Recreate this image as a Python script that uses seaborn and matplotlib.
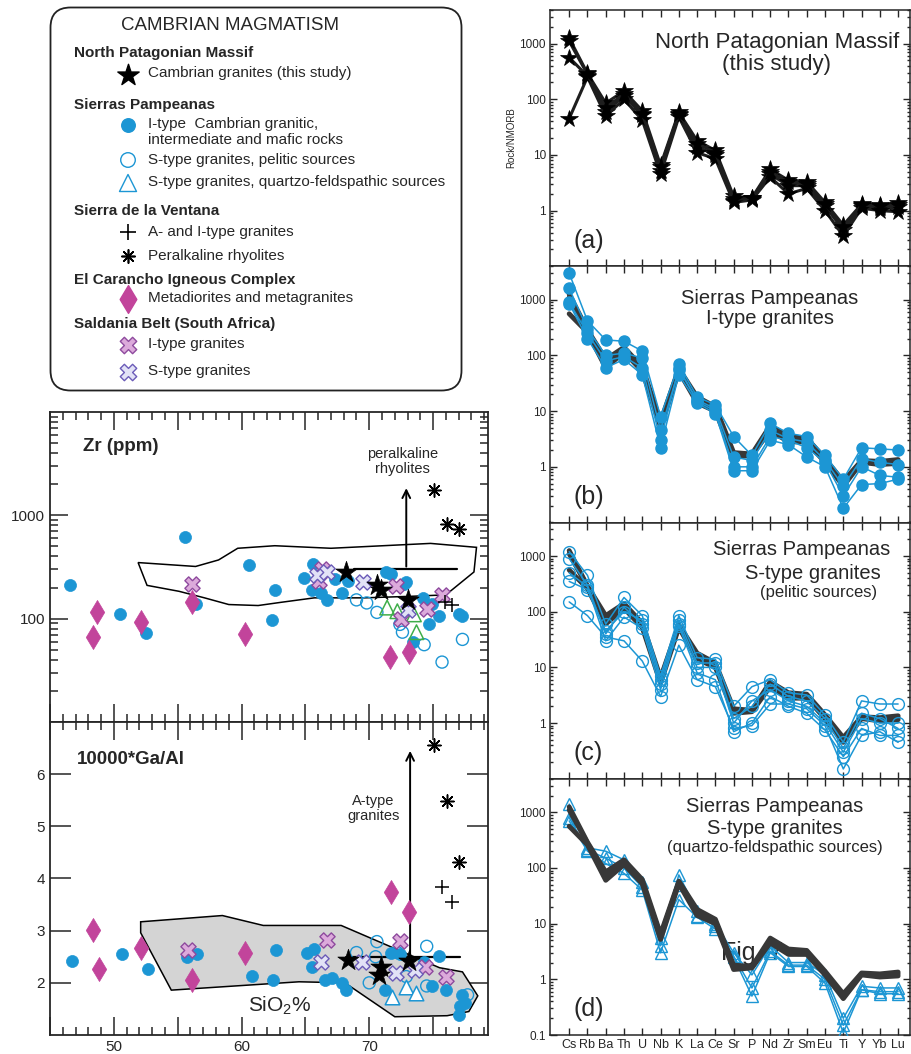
import numpy as np
import pandas as pd
import matplotlib
matplotlib.use("Agg")
import matplotlib.pyplot as plt
import seaborn as sns
from matplotlib.patches import FancyBboxPatch
from matplotlib.ticker import FixedLocator, LogLocator, MultipleLocator, NullFormatter, FuncFormatter

sns.set_style("ticks")
plt.rcParams['font.family'] = ['Liberation Sans', 'DejaVu Sans']
plt.rcParams['mathtext.default'] = 'regular'

# ── Spider diagram data (Rock/NMORB) ──────────────────────────────────────────
elements = ["Cs", "Rb", "Ba", "Th", "U", "Nb", "K", "La", "Ce", "Sr",
            "P", "Nd", "Zr", "Sm", "Eu", "Ti", "Y", "Yb", "Lu"]

# (a) North Patagonian Massif, this study
npm_1 = [1250, 290, 85, 140, 62, 6.5, 58, 18, 12, 1.8, 1.7, 5.5, 3.5, 3.3, 1.4, 0.55, 1.3, 1.25, 1.35]
npm_2 = [560, 260, 60, 115, 52, 5.2, 52, 14, 10, 1.5, 1.6, 4.5, 2.8, 2.8, 1.2, 0.45, 1.2, 1.1, 1.15]
npm_3 = [45, 250, 50, 100, 42, 4.5, 48, 11, 8.5, 1.4, 1.55, 4.0, 2.0, 2.5, 1.0, 0.35, 1.1, 1.0, 0.95]
npm_4 = [1100, 280, 70, 125, 55, 6.0, 55, 16, 11, 1.6, 1.65, 5.0, 3.2, 3.0, 1.3, 0.5, 1.25, 1.2, 1.25]

# (b) Sierras Pampeanas I-type granites
ity_1 = [3000, 420, 190, 180, 120, 8.0, 70, 18, 13, 3.5, 1.6, 6.0, 4.0, 3.5, 1.6, 0.6, 2.2, 2.1, 2.0]
ity_2 = [1600, 300, 100, 110, 90, 4.5, 55, 16, 11, 1.5, 1.3, 4.5, 3.2, 2.8, 1.3, 0.45, 1.4, 1.2, 1.1]
ity_3 = [850, 200, 60, 85, 45, 2.2, 45, 14, 9, 0.85, 0.85, 3.0, 2.5, 1.5, 1.0, 0.18, 0.48, 0.5, 0.6]
ity_4 = [900, 250, 80, 95, 60, 3.0, 60, 15, 10, 1.0, 1.0, 3.5, 3.0, 2.2, 1.2, 0.3, 1.0, 0.7, 0.65]

# (c) Sierras Pampeanas S-type granites, pelitic sources
stp_1 = [1200, 450, 60, 180, 85, 7.0, 85, 15, 14, 2.0, 4.5, 6.0, 3.5, 3.2, 1.4, 0.45, 2.5, 2.2, 2.2]
stp_2 = [900, 300, 40, 120, 60, 5.0, 60, 10, 10, 1.0, 2.5, 4.0, 2.5, 2.0, 1.0, 0.3, 1.2, 1.0, 1.0]
stp_3 = [500, 280, 30, 80, 50, 4.0, 55, 8, 6, 0.7, 1.0, 3.0, 2.0, 1.5, 0.75, 0.25, 0.8, 0.6, 0.6]
stp_4 = [150, 85, 35, 30, 13, 3.0, 25, 6, 4.5, 0.8, 0.9, 2.2, 2.2, 1.8, 0.9, 0.15, 0.6, 0.7, 0.45]
stp_5 = [350, 250, 45, 100, 70, 6.0, 70, 12, 12, 1.2, 2.0, 5.0, 3.0, 2.5, 1.2, 0.35, 1.5, 1.2, 0.8]

# (d) Sierras Pampeanas S-type granites, quartzo-feldspathic sources
stq_1 = [1400, 230, 200, 140, 55, 5.5, 75, 17, 10, 3.0, 1.2, 4.0, 2.0, 2.0, 1.2, 0.2, 0.75, 0.7, 0.7]
stq_2 = [800, 210, 150, 100, 45, 4.0, 50, 14, 9, 2.6, 0.7, 3.2, 1.8, 1.8, 1.0, 0.15, 0.65, 0.6, 0.6]
stq_3 = [700, 200, 120, 80, 40, 3.0, 27, 13, 8, 2.5, 0.5, 3.0, 1.7, 1.7, 0.85, 0.11, 0.65, 0.55, 0.55]

# ── SiO2 vs Zr data ───────────────────────────────────────────────────────────
zr_ity_si = [46.6, 50.5, 52.5, 55.6, 56.4, 60.6, 62.4, 62.6, 64.9, 65.6, 65.5, 66.2, 66.7, 67.3,
             67.9, 68.3, 71.3, 71.7, 72.7, 72.9, 73.4, 74.2, 74.9, 74.7, 75.5, 77.0, 77.3]
zr_ity_zr = [210, 111, 73, 620, 140, 330, 96, 190, 245, 340, 190, 178, 150, 240,
             178, 230, 280, 270, 218, 225, 60, 160, 140, 88, 105, 110, 105]
zr_dia_si = [48.7, 48.4, 52.1, 56.1, 60.3, 71.6, 73.1]
zr_dia_zr = [117, 66, 93, 145, 71, 43, 48]
zr_star_si = [68.2, 70.6, 70.9, 73.0]
zr_star_zr = [280, 214, 190, 150]
zr_xi_si = [56.1, 66.3, 66.1, 72.1, 74.5, 75.7, 72.5]
zr_xi_zr = [218, 300, 230, 205, 125, 170, 100]
zr_xs_si = [65.9, 69.5, 66.7, 73.0]
zr_xs_zr = [265, 225, 280, 120]
zr_sp_si = [69.0, 69.8, 70.6, 72.4, 72.6, 74.3, 75.7, 77.3]
zr_sp_zr = [152, 142, 115, 88, 74, 56, 38, 63]
zr_sq_si = [71.4, 73.5, 73.7, 72.2]
zr_sq_zr = [128, 110, 74, 118]
zr_plus_si = [75.9, 76.5]
zr_plus_zr = [145, 135]
zr_ast_si = [75.1, 76.1, 77.0]
zr_ast_zr = [1770, 830, 730]
zr_field_si = [51.9, 56.4, 58.2, 59.7, 62.6, 67.0, 74.8, 78.4, 78.2, 76.0, 73.5, 69.6,
               65.7, 63.1, 61.3, 59.0, 57.1, 55.1, 52.6]
zr_field_zr = [349, 320, 370, 480, 508, 480, 535, 490, 283, 170, 165, 159,
               159, 144, 134, 137, 159, 184, 210]
zr_limit_si = [68.8, 76.9]
zr_limit = 300
zr_arrow_si = 72.9
zr_arrow_top = 1950

# ── SiO2 vs 10000*Ga/Al data ─────────────────────────────────────────────────
ga_ity_si = [46.7, 50.6, 52.7, 55.7, 56.5, 60.8, 62.5, 62.7, 65.1, 65.7, 65.5, 66.5, 67.1,
             67.9, 68.2, 71.2, 71.7, 72.4, 74.3, 75.5, 74.9, 76.0, 77.3, 77.5, 77.1, 77.0]
ga_ity_ga = [2.41, 2.55, 2.27, 2.50, 2.56, 2.14, 2.06, 2.62, 2.58, 2.64, 2.31, 2.06, 2.10,
             2.00, 1.87, 1.87, 2.58, 2.55, 2.39, 2.51, 1.93, 1.87, 1.77, 1.61, 1.55, 1.39]
ga_dia_si = [48.4, 48.8, 52.1, 56.1, 60.3, 71.7, 73.1]
ga_dia_ga = [3.01, 2.27, 2.66, 2.06, 2.58, 3.74, 3.35]
ga_star_si = [68.3, 70.9, 70.8, 73.1]
ga_star_ga = [2.44, 2.31, 2.15, 2.41]
ga_xi_si = [66.7, 72.4, 76.0, 74.4, 55.8]
ga_xi_ga = [2.83, 2.80, 2.12, 2.31, 2.62]
ga_xs_si = [66.2, 69.4, 72.1, 73.6]
ga_xs_ga = [2.39, 2.39, 2.19, 2.25]
ga_sp_si = [69.0, 70.6, 74.5, 70.0, 70.5, 72.9, 77.7, 72.2, 74.5]
ga_sp_ga = [2.58, 2.79, 2.70, 2.00, 2.50, 2.12, 1.77, 2.58, 1.94]
ga_sq_si = [71.8, 72.9, 73.7]
ga_sq_ga = [1.73, 1.92, 1.81]
ga_plus_si = [75.7, 76.5]
ga_plus_ga = [3.84, 3.55]
ga_ast_si = [75.1, 76.1, 77.0]
ga_ast_ga = [6.55, 5.49, 4.32]
ga_field_si = [52.1, 58.5, 61.7, 67.8, 75.5, 77.3, 78.5, 77.8, 76.1, 72.0, 68.1, 64.5, 54.5, 52.1]
ga_field_ga = [3.17, 3.29, 3.10, 3.10, 2.29, 2.21, 1.75, 1.45, 1.37, 1.35, 2.00, 2.02, 1.86, 2.96]
ga_limit_si = [68.2, 77.1]
ga_limit = 2.5
ga_arrow_si = 73.2
ga_arrow_top = 6.5

# ── Colours ──────────────────────────────────────────────────────────────────
BLUE = "#1c96d4"
MAGENTA = "#c2449b"
XI_FACE, XI_EDGE = "#dcaadb", "#8e4a9e"
XS_FACE, XS_EDGE = "#e2e2f6", "#6b5bb8"
GREEN = "#3fae4a"
BAND = "#383838"

W, H = 912, 1054
fig = plt.figure(figsize=(W / 100, H / 100), dpi=100)


def px_axes(l, t, r, b):
    return fig.add_axes([l / W, 1 - b / H, (r - l) / W, (b - t) / H])


def spider_df(samples):
    rows = []
    for name, vals in samples.items():
        for i, v in enumerate(vals):
            rows.append((name, i, v))
    return pd.DataFrame(rows, columns=["sample", "pos", "value"])


# ── Right column: spider diagrams ────────────────────────────────────────────
panels = [
    dict(tag="(a)", samples={"n1": npm_1, "n2": npm_2, "n3": npm_3, "n4": npm_4}),
    dict(tag="(b)", samples={"i1": ity_1, "i2": ity_2, "i3": ity_3, "i4": ity_4}),
    dict(tag="(c)", samples={"p1": stp_1, "p2": stp_2, "p3": stp_3, "p4": stp_4, "p5": stp_5}),
    dict(tag="(d)", samples={"q1": stq_1, "q2": stq_2, "q3": stq_3}),
]
band_df = spider_df({"n1": npm_1, "n2": npm_2, "n4": npm_4})

top = 10
ph = 256.25
spider_axes = []
for k, p in enumerate(panels):
    ax = px_axes(550, top + k * ph, 910, top + (k + 1) * ph)
    spider_axes.append(ax)
    df = spider_df(p["samples"])
    if k == 0:
        sns.lineplot(data=df, x="pos", y="value", units="sample", estimator=None, sort=False,
                     color="#1e1e1e", linewidth=2.2, marker="*", markersize=13,
                     markerfacecolor="black", markeredgecolor="black", markeredgewidth=0.5,
                     legend=False, ax=ax, zorder=3)
    else:
        band_z = 4 if k == 3 else 2
        sns.lineplot(data=band_df, x="pos", y="value", units="sample", estimator=None, sort=False,
                     color=BAND, linewidth=3.5, legend=False, ax=ax, zorder=band_z)
        if k == 1:
            kw = dict(marker="o", markersize=8, markerfacecolor=BLUE, markeredgecolor=BLUE)
        elif k == 2:
            kw = dict(marker="o", markersize=8.5, markerfacecolor="none", markeredgecolor=BLUE)
        else:
            kw = dict(marker="^", markersize=9, markerfacecolor="none", markeredgecolor=BLUE)
        sns.lineplot(data=df, x="pos", y="value", units="sample", estimator=None, sort=False,
                     color=BLUE, linewidth=1.1, markeredgewidth=1.0, legend=False, ax=ax,
                     zorder=3, **kw)

    ax.set_yscale("log")
    ax.set_ylim(0.1, 4000)
    ax.set_xlim(-1.05, 18.65)
    ax.set_xlabel("")
    ax.set_ylabel("")
    ax.set_xticks(range(len(elements)))
    ax.yaxis.set_major_locator(FixedLocator([0.1, 1, 10, 100, 1000]))
    ax.yaxis.set_minor_locator(LogLocator(base=10, subs=np.arange(2, 10)))
    ax.yaxis.set_minor_formatter(NullFormatter())
    ylabels = ["0.1" if k == 3 else "", "1", "10", "100", "1000"]
    ax.set_yticklabels(ylabels, fontsize=8.5)
    if k == 3:
        ax.set_xticklabels(elements, fontsize=9)
    else:
        ax.set_xticklabels([])
    ax.tick_params(which="both", direction="in", top=True, right=True, width=1, pad=3)
    ax.tick_params(which="major", length=5)
    ax.tick_params(which="minor", length=2.5)
    for s in ax.spines.values():
        s.set_linewidth(1.1)
    ax.text(0.065, 0.10, p["tag"], transform=ax.transAxes, fontsize=18, va="center", ha="left")

spider_axes[0].set_ylabel("Rock/NMORB", fontsize=7, labelpad=2)
spider_axes[0].text(0.63, 0.83, "North Patagonian Massif\n(this study)", transform=spider_axes[0].transAxes,
                    fontsize=16, ha="center", va="center", linespacing=1.05)
spider_axes[1].text(0.61, 0.835, "Sierras Pampeanas\nI-type granites", transform=spider_axes[1].transAxes,
                    fontsize=14.5, ha="center", va="center", linespacing=1.05)
spider_axes[2].text(0.70, 0.895, "Sierras Pampeanas", transform=spider_axes[2].transAxes,
                    fontsize=14.5, ha="center", va="center")
spider_axes[2].text(0.73, 0.80, "S-type granites", transform=spider_axes[2].transAxes,
                    fontsize=14.5, ha="center", va="center")
spider_axes[2].text(0.745, 0.725, "(pelitic sources)", transform=spider_axes[2].transAxes,
                    fontsize=12, ha="center", va="center")
spider_axes[3].text(0.625, 0.89, "Sierras Pampeanas", transform=spider_axes[3].transAxes,
                    fontsize=14.5, ha="center", va="center")
spider_axes[3].text(0.625, 0.805, "S-type granites", transform=spider_axes[3].transAxes,
                    fontsize=14.5, ha="center", va="center")
spider_axes[3].text(0.625, 0.73, "(quartzo-feldspathic sources)", transform=spider_axes[3].transAxes,
                    fontsize=12, ha="center", va="center")
spider_axes[3].text(0.475, 0.32, "Fig. 7", transform=spider_axes[3].transAxes,
                    fontsize=18, ha="left", va="center", color="#2a2a2a", zorder=1)


# ── Left column helpers ──────────────────────────────────────────────────────
def pts(ax, x, y, **kw):
    sns.scatterplot(x=x, y=y, ax=ax, legend=False, **kw)


def style_sio2_axis(ax, show_labels):
    ax.set_xlim(45, 79.3)
    ax.xaxis.set_major_locator(MultipleLocator(5))
    ax.xaxis.set_minor_locator(MultipleLocator(1))
    if show_labels:
        ax.xaxis.set_major_formatter(FuncFormatter(
            lambda v, p: f"{int(round(v))}" if int(round(v)) % 10 == 0 else ""))
    else:
        ax.xaxis.set_major_formatter(NullFormatter())
    ax.tick_params(which="both", direction="in", top=True, right=True, width=1.1, labelsize=11)
    ax.tick_params(which="major", length=13)
    ax.tick_params(which="minor", length=6)
    ax.set_xlabel("")
    ax.set_ylabel("")
    for s in ax.spines.values():
        s.set_linewidth(1.3)


# ── SiO2 vs Zr ───────────────────────────────────────────────────────────────
ax_zr = px_axes(50, 412, 488, 722)
ax_zr.set_yscale("log")
ax_zr.fill(zr_field_si, zr_field_zr, facecolor="white", edgecolor="black", lw=1.1, zorder=1)
ax_zr.plot(zr_limit_si, [zr_limit, zr_limit], color="black", lw=1.6, zorder=2)
ax_zr.annotate("", xy=(zr_arrow_si, zr_arrow_top), xytext=(zr_arrow_si, zr_limit),
               arrowprops=dict(arrowstyle="->", lw=1.4, color="black", mutation_scale=14), zorder=2)
pts(ax_zr, zr_ity_si, zr_ity_zr, marker="o", s=75, color=BLUE, edgecolor=BLUE, linewidth=0.5, zorder=3)
pts(ax_zr, zr_sp_si, zr_sp_zr, marker="o", s=75, facecolor="none", edgecolor=BLUE, linewidth=1.0, zorder=4)
pts(ax_zr, zr_sq_si, zr_sq_zr, marker="^", s=110, facecolor="none", edgecolor=GREEN, linewidth=1.1, zorder=4)
pts(ax_zr, zr_dia_si, zr_dia_zr, marker="d", s=150, color=MAGENTA, edgecolor=MAGENTA, linewidth=0.5, zorder=5)
pts(ax_zr, zr_xi_si, zr_xi_zr, marker="X", s=120, facecolor=XI_FACE, edgecolor=XI_EDGE, linewidth=1.0, zorder=5)
pts(ax_zr, zr_xs_si, zr_xs_zr, marker="X", s=120, facecolor=XS_FACE, edgecolor=XS_EDGE, linewidth=1.0, zorder=5)
pts(ax_zr, zr_star_si, zr_star_zr, marker="*", s=260, color="black", edgecolor="black", linewidth=0.5, zorder=6)
pts(ax_zr, zr_plus_si, zr_plus_zr, marker="+", s=110, color="black", linewidth=1.1, zorder=6)
pts(ax_zr, zr_ast_si, zr_ast_zr, marker=(8, 2, 0), s=90, color="black", linewidth=1.1, zorder=6)
ax_zr.set_ylim(10, 10000)
ax_zr.yaxis.set_major_locator(FixedLocator([100, 1000]))
ax_zr.yaxis.set_major_formatter(FuncFormatter(lambda v, p: f"{int(v)}"))
ax_zr.yaxis.set_minor_locator(LogLocator(base=10, subs=np.arange(2, 10)))
ax_zr.yaxis.set_minor_formatter(NullFormatter())
style_sio2_axis(ax_zr, show_labels=False)
ax_zr.text(0.075, 0.89, "Zr (ppm)", transform=ax_zr.transAxes, fontsize=13.5, fontweight="bold",
           ha="left", va="center")
ax_zr.text(72.6, 3300, "peralkaline\nrhyolites", fontsize=10.5, ha="center", va="center", linespacing=1.1)

# ── SiO2 vs 10000*Ga/Al ──────────────────────────────────────────────────────
ax_ga = px_axes(50, 722, 488, 1035)
ax_ga.fill(ga_field_si, ga_field_ga, facecolor="#d4d4d4", edgecolor="black", lw=1.1, zorder=1)
ax_ga.plot(ga_limit_si, [ga_limit, ga_limit], color="black", lw=1.6, zorder=2)
ax_ga.annotate("", xy=(ga_arrow_si, ga_arrow_top), xytext=(ga_arrow_si, ga_limit),
               arrowprops=dict(arrowstyle="->", lw=1.4, color="black", mutation_scale=14), zorder=2)
pts(ax_ga, ga_ity_si, ga_ity_ga, marker="o", s=75, color=BLUE, edgecolor=BLUE, linewidth=0.5, zorder=3)
pts(ax_ga, ga_sp_si, ga_sp_ga, marker="o", s=75, facecolor="none", edgecolor=BLUE, linewidth=1.0, zorder=4)
pts(ax_ga, ga_sq_si, ga_sq_ga, marker="^", s=110, facecolor="white", edgecolor=BLUE, linewidth=1.1, zorder=4)
pts(ax_ga, ga_dia_si, ga_dia_ga, marker="d", s=150, color=MAGENTA, edgecolor=MAGENTA, linewidth=0.5, zorder=5)
pts(ax_ga, ga_xi_si, ga_xi_ga, marker="X", s=120, facecolor=XI_FACE, edgecolor=XI_EDGE, linewidth=1.0, zorder=5)
pts(ax_ga, ga_xs_si, ga_xs_ga, marker="X", s=120, facecolor=XS_FACE, edgecolor=XS_EDGE, linewidth=1.0, zorder=5)
pts(ax_ga, ga_star_si, ga_star_ga, marker="*", s=260, color="black", edgecolor="black", linewidth=0.5, zorder=6)
pts(ax_ga, ga_plus_si, ga_plus_ga, marker="+", s=110, color="black", linewidth=1.1, zorder=6)
pts(ax_ga, ga_ast_si, ga_ast_ga, marker=(8, 2, 0), s=90, color="black", linewidth=1.1, zorder=6)
ax_ga.set_ylim(1, 7)
ax_ga.yaxis.set_major_locator(FixedLocator([2, 3, 4, 5, 6]))
ax_ga.yaxis.set_minor_locator(FixedLocator([]))
style_sio2_axis(ax_ga, show_labels=True)
ax_ga.tick_params(axis="y", which="major", length=15)
ax_ga.text(0.062, 0.88, "10000*Ga/Al", transform=ax_ga.transAxes, fontsize=13.5, fontweight="bold",
           ha="left", va="center")
ax_ga.text(70.3, 5.35, "A-type\ngranites", fontsize=10.5, ha="center", va="center", linespacing=1.1)
ax_ga.text(63.0, 1.55, "SiO$_2$%", fontsize=15, ha="center", va="center")

# ── Legend box ───────────────────────────────────────────────────────────────
ax_leg = px_axes(49, 6, 463, 392)
ax_leg.set_xlim(49, 463)
ax_leg.set_ylim(392, 6)
ax_leg.axis("off")
ax_leg.add_patch(FancyBboxPatch((50.5, 7.5), 411, 383, boxstyle="round,pad=0,rounding_size=20",
                                facecolor="white", edgecolor="#222222", lw=1.3, clip_on=False))

KEY_X, TXT_X, HEAD_X = 128, 148, 74
ax_leg.text(230, 26, "CAMBRIAN MAGMATISM", fontsize=13.5, ha="center", va="center")
heads = [("North Patagonian Massif", 53), ("Sierras Pampeanas", 105), ("Sierra de la Ventana", 211),
         ("El Carancho Igneous Complex", 280), ("Saldania Belt (South Africa)", 324)]
for label, y in heads:
    ax_leg.text(HEAD_X, y, label, fontsize=11, fontweight="bold", ha="left", va="center")

items = [("Cambrian granites (this study)", 73), ("I-type  Cambrian granitic,", 124),
         ("intermediate and mafic rocks", 140), ("S-type granites, pelitic sources", 160),
         ("S-type granites, quartzo-feldspathic sources", 182), ("A- and I-type granites", 232),
         ("Peralkaline rhyolites", 256), ("Metadiorites and metagranites", 298),
         ("I-type granites", 344), ("S-type granites", 371)]
for label, y in items:
    ax_leg.text(TXT_X, y, label, fontsize=11, ha="left", va="center")

ax_leg.scatter([KEY_X], [75], marker="*", s=260, color="black", clip_on=False)
ax_leg.scatter([KEY_X], [125], marker="o", s=95, color=BLUE, clip_on=False)
ax_leg.scatter([KEY_X], [160], marker="o", s=110, facecolor="none", edgecolor=BLUE, lw=1.0, clip_on=False)
ax_leg.scatter([KEY_X], [183], marker="^", s=150, facecolor="none", edgecolor=BLUE, lw=1.0, clip_on=False)
ax_leg.scatter([KEY_X], [232], marker="+", s=130, color="black", lw=1.2, clip_on=False)
ax_leg.scatter([KEY_X], [256], marker=(8, 2, 0), s=90, color="black", lw=1.2, clip_on=False)
ax_leg.scatter([KEY_X], [299], marker="d", s=200, color=MAGENTA, clip_on=False)
ax_leg.scatter([KEY_X], [345], marker="X", s=140, facecolor=XI_FACE, edgecolor=XI_EDGE, lw=1.0, clip_on=False)
ax_leg.scatter([KEY_X], [372], marker="X", s=140, facecolor=XS_FACE, edgecolor=XS_EDGE, lw=1.0, clip_on=False)

fig.savefig("out.png", dpi=100)
